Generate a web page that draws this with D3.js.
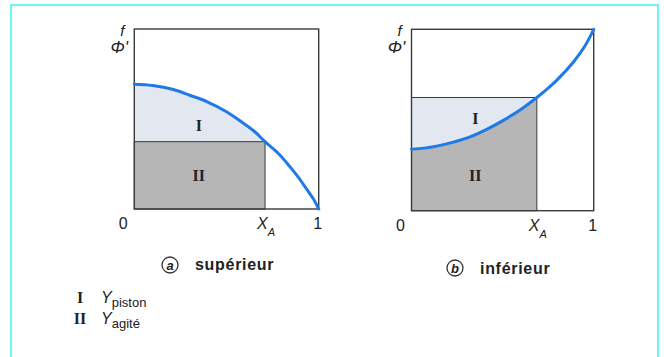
<!DOCTYPE html>
<html>
<head>
<meta charset="utf-8">
<script src="https://cdn.jsdelivr.net/npm/d3@7"></script>
<style>
  html, body { margin: 0; padding: 0; background: #fff; }
  svg { display: block; }
</style>
</head>
<body>
<svg id="chart" width="664" height="357"></svg>
<script>
// Normalised conversion X (0..1) and the f / Φ' profile for each case
const supX = [0, 0.1, 0.212, 0.3, 0.393, 0.5, 0.573, 0.65, 0.709, 0.78, 0.845, 0.89, 0.935, 0.97, 1];
const supY = [0.693, 0.686, 0.664, 0.632, 0.597, 0.54, 0.490, 0.432, 0.374, 0.310, 0.234, 0.176, 0.110, 0.058, 0];
const infX = [0, 0.07, 0.138, 0.23, 0.321, 0.41, 0.504, 0.6, 0.688, 0.75, 0.798, 0.889, 0.95, 1];
const infY = [0.339, 0.345, 0.356, 0.378, 0.407, 0.447, 0.498, 0.558, 0.624, 0.676, 0.720, 0.820, 0.905, 1];

// Outlet conversion and the rectangle height (value of the profile at X_A)
const xAValues = [0.709, 0.688];
const rectHeights = [0.374, 0.624];

const tickLabels = ["0", "X", "1"];
const panelTitles = ["supérieur", "inférieur"];
const panelLetters = ["a", "b"];
const legendNumerals = ["I", "II"];
const legendSubs = ["piston", "agité"];

const svg = d3.select("#chart");

// outer frame
svg.append("rect")
  .attr("x", 11).attr("y", 5).attr("width", 647).attr("height", 360)
  .attr("fill", "none").attr("stroke", "#3ff5f5").attr("stroke-width", 1.5);

const panels = [
  { xs: supX, ys: supY, left: 134.3, right: 318.7, top: 29, bottom: 209, kind: "sup" },
  { xs: infX, ys: infY, left: 411.5, right: 593.7, top: 29.3, bottom: 210.7, kind: "inf" }
];

const LIGHT = "#e2e7f0";
const GRAY = "#b6b6b6";
const BLUE = "#1f7ae6";
const INK = "#3a3a3a";
const sans = "'Liberation Sans', Arial, sans-serif";
const serif = "'Liberation Serif', 'DejaVu Serif', serif";

panels.forEach((p, i) => {
  const x = d3.scaleLinear().domain([0, 1]).range([p.left, p.right]);
  const y = d3.scaleLinear().domain([0, 1]).range([p.bottom, p.top]);
  const pts = p.xs.map((v, k) => [v, p.ys[k]]);
  const xA = xAValues[i];
  const yr = rectHeights[i];
  const g = svg.append("g");

  const clipId = "clip" + i;
  const clipRect = svg.append("clipPath").attr("id", clipId).append("rect");

  const smooth = d3.curveCatmullRom.alpha(0.5);
  const under = d3.area()
    .x(d => x(d[0])).y0(y(0)).y1(d => y(d[1]))
    .curve(smooth);
  const line = d3.line()
    .x(d => x(d[0])).y(d => y(d[1]))
    .curve(smooth);

  if (p.kind === "sup") {
    // region I: below curve, above rectangle, for X < X_A
    clipRect.attr("x", x(0)).attr("y", y(1)).attr("width", x(xA) - x(0)).attr("height", y(0) - y(1));
    g.append("path").datum(pts).attr("d", under).attr("fill", LIGHT).attr("clip-path", `url(#${clipId})`);
    g.append("rect")
      .attr("x", x(0)).attr("y", y(yr)).attr("width", x(xA) - x(0)).attr("height", y(0) - y(yr))
      .attr("fill", GRAY).attr("stroke", INK).attr("stroke-width", 1);
  } else {
    // rectangle: region I above curve (light), region II under curve (gray)
    g.append("rect")
      .attr("x", x(0)).attr("y", y(yr)).attr("width", x(xA) - x(0)).attr("height", y(0) - y(yr))
      .attr("fill", LIGHT);
    clipRect.attr("x", x(0)).attr("y", y(yr)).attr("width", x(xA) - x(0)).attr("height", y(0) - y(yr));
    g.append("path").datum(pts).attr("d", under).attr("fill", GRAY).attr("clip-path", `url(#${clipId})`);
    g.append("rect")
      .attr("x", x(0)).attr("y", y(yr)).attr("width", x(xA) - x(0)).attr("height", y(0) - y(yr))
      .attr("fill", "none").attr("stroke", INK).attr("stroke-width", 1);
  }

  // plot box
  g.append("rect")
    .attr("x", x(0)).attr("y", y(1)).attr("width", x(1) - x(0)).attr("height", y(0) - y(1))
    .attr("fill", "none").attr("stroke", INK).attr("stroke-width", 1.4);

  // profile curve
  g.append("path").datum(pts).attr("d", line)
    .attr("fill", "none").attr("stroke", BLUE).attr("stroke-width", 3).attr("stroke-linecap", "round");

  // region numerals
  g.append("text")
    .attr("x", x(0.35)).attr("y", p.kind === "sup" ? 131 : 124)
    .attr("text-anchor", "middle").attr("font-family", serif).attr("font-weight", "bold")
    .attr("font-size", 16).attr("fill", "#222").text(legendNumerals[0]);
  g.append("text")
    .attr("x", x(0.35)).attr("y", 181)
    .attr("text-anchor", "middle").attr("font-family", serif).attr("font-weight", "bold")
    .attr("font-size", 16).attr("fill", "#222").text(legendNumerals[1]);

  // axis labels
  const baseY = p.kind === "sup" ? 229 : 231;
  g.append("text").attr("x", x(0) - 11).attr("y", baseY).attr("text-anchor", "middle")
    .attr("font-family", sans).attr("font-size", 16).attr("fill", "#222").text(tickLabels[0]);
  g.append("text").attr("x", x(1) - 1).attr("y", baseY).attr("text-anchor", "middle")
    .attr("font-family", sans).attr("font-size", 16).attr("fill", "#222").text(tickLabels[2]);
  const xa = g.append("text").attr("x", x(xA) - 8).attr("y", baseY)
    .attr("font-family", sans).attr("font-size", 16).attr("font-style", "italic").attr("fill", "#222");
  xa.append("tspan").text(tickLabels[1]);
  xa.append("tspan").attr("dy", 7).attr("font-size", 11).text("A");

  // vertical axis labels
  g.append("text").attr("x", x(0) - 12).attr("y", y(1) + 7).attr("text-anchor", "middle")
    .attr("font-family", sans).attr("font-style", "italic").attr("font-size", 15).attr("fill", "#222").text("f");
  g.append("text").attr("x", x(0) - 15).attr("y", y(1) + 24).attr("text-anchor", "middle")
    .attr("font-family", sans).attr("font-style", "italic").attr("font-size", 17).attr("fill", "#222").text("Φ'");

  // panel title with circled letter
  const cx = p.kind === "sup" ? 170 : 455;
  const cy = p.kind === "sup" ? 265 : 268;
  g.append("circle").attr("cx", cx).attr("cy", cy).attr("r", 8)
    .attr("fill", "none").attr("stroke", "#333").attr("stroke-width", 1.3);
  g.append("text").attr("x", cx).attr("y", cy + 4.5).attr("text-anchor", "middle")
    .attr("font-family", sans).attr("font-style", "italic").attr("font-weight", "bold")
    .attr("font-size", 13).attr("fill", "#222").text(panelLetters[i]);
  g.append("text").attr("x", p.kind === "sup" ? 195 : 480).attr("y", p.kind === "sup" ? 270 : 274)
    .attr("font-family", sans).attr("font-weight", "bold").attr("font-size", 16)
    .attr("letter-spacing", 0.7).attr("fill", "#222")
    .text(panelTitles[i]);
});

// legend
const legend = svg.append("g");
legendNumerals.forEach((n, k) => {
  const by = k === 0 ? 303 : 324;
  legend.append("text").attr("x", 80).attr("y", by).attr("text-anchor", "middle")
    .attr("font-family", serif).attr("font-weight", "bold")
    .attr("font-size", 16).attr("fill", "#222").text(n);
  const t = legend.append("text").attr("x", 101).attr("y", by)
    .attr("font-family", sans).attr("font-size", 16).attr("fill", "#222");
  t.append("tspan").attr("font-style", "italic").text("Y");
  t.append("tspan").attr("dy", 4).attr("font-size", 13).text(legendSubs[k]);
});
</script>
</body>
</html>
